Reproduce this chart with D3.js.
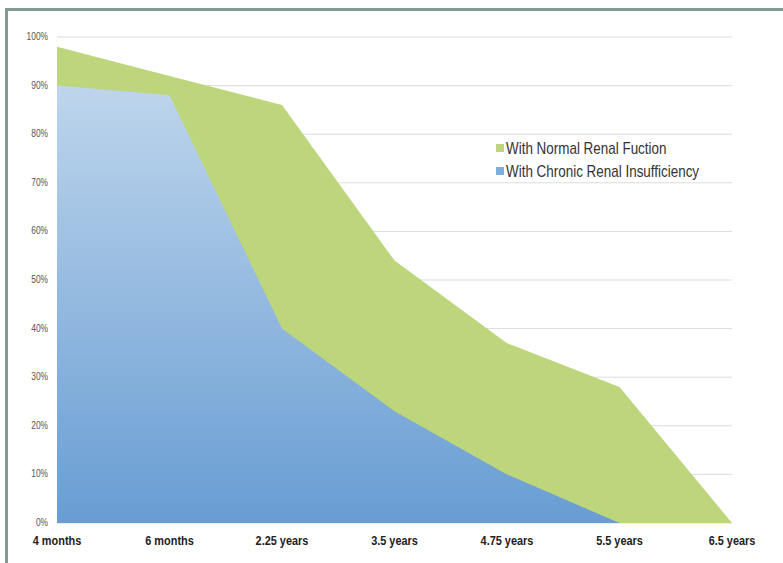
<!DOCTYPE html>
<html lang="en">
<head>
    <meta charset="UTF-8">
    <title>Renal Function Area Chart</title>
    <script src="https://d3js.org/d3.v7.min.js"></script>
    <style>
        body { margin: 0; background: #fff; }
        text { font-family: "Liberation Sans Narrow", "Arial Narrow", "Liberation Sans", Arial, sans-serif; }
        .ytick { font-size: 10px; fill: #555; }
        .xtick { font-size: 13px; font-weight: bold; fill: #222; }
        .legend { font-size: 16px; fill: #333; }
    </style>
</head>
<body>
<div id="chart"></div>
<script>
    // data
    const periods = ["4 months", "6 months", "2.25 years", "3.5 years", "4.75 years", "5.5 years", "6.5 years"];
    const normalRenal = [98, 92, 86, 54, 37, 28, 0];
    const chronicRenal = [90, 88, 40, 23, 10, 0, 0];
    const yTicks = [0, 10, 20, 30, 40, 50, 60, 70, 80, 90, 100];

    const W = 783, H = 563;
    const plot = { left: 57, right: 732, top: 37, bottom: 523 };
    const narrow = 0.84; // fake a condensed face

    const svg = d3.select("#chart").append("svg")
        .attr("width", W)
        .attr("height", H);

    // frame (only top and left edges show)
    svg.append("rect").attr("x", 5).attr("y", 8).attr("width", W).attr("height", 3).attr("fill", "#829a90");
    svg.append("rect").attr("x", 5).attr("y", 8).attr("width", 3).attr("height", H).attr("fill", "#829a90");

    const x = d3.scalePoint()
        .domain(periods)
        .range([plot.left, plot.right]);

    const y = d3.scaleLinear()
        .domain([0, 100])
        .range([plot.bottom, plot.top]);

    // gradient for blue area
    const defs = svg.append("defs");
    const grad = defs.append("linearGradient")
        .attr("id", "blueGrad")
        .attr("gradientUnits", "userSpaceOnUse")
        .attr("x1", 0).attr("x2", 0)
        .attr("y1", y(90)).attr("y2", y(0));
    grad.append("stop").attr("offset", "0%").attr("stop-color", "#bed5ec");
    grad.append("stop").attr("offset", "100%").attr("stop-color", "#689dd3");

    // gridlines
    svg.append("g")
        .selectAll("line")
        .data(yTicks)
        .join("line")
        .attr("x1", plot.left)
        .attr("x2", plot.right)
        .attr("y1", d => y(d))
        .attr("y2", d => y(d))
        .attr("stroke", "#dcdcdc")
        .attr("stroke-width", 1);

    const area = vals => d3.area()
        .x((d, i) => x(periods[i]))
        .y0(y(0))
        .y1(d => y(d))(vals);

    svg.append("path")
        .attr("d", area(normalRenal))
        .attr("fill", "#bdd57b");

    svg.append("path")
        .attr("d", area(chronicRenal))
        .attr("fill", "url(#blueGrad)");

    // y labels
    svg.append("g")
        .selectAll("text")
        .data(yTicks)
        .join("text")
        .attr("class", "ytick")
        .attr("transform", d => `translate(48,${y(d) + 3}) scale(${narrow},1)`)
        .attr("text-anchor", "end")
        .text(d => d + "%");

    // x labels
    svg.append("g")
        .selectAll("text")
        .data(periods)
        .join("text")
        .attr("class", "xtick")
        .attr("transform", d => `translate(${x(d)},545) scale(${narrow},1)`)
        .attr("text-anchor", "middle")
        .text(d => d);

    // legend
    const legendItems = [
        { label: "With Normal Renal Fuction", color: "#bdd57b" },
        { label: "With Chronic Renal Insufficiency", color: "#7eaede" }
    ];
    const lg = svg.append("g").attr("transform", "translate(496,148)");
    legendItems.forEach((d, i) => {
        lg.append("rect")
            .attr("x", 0)
            .attr("y", i * 23 - 4)
            .attr("width", 8)
            .attr("height", 8)
            .attr("fill", d.color);
        lg.append("text")
            .attr("class", "legend")
            .attr("transform", `translate(10,${i * 23 + 6}) scale(${narrow},1)`)
            .text(d.label);
    });
</script>
</body>
</html>
